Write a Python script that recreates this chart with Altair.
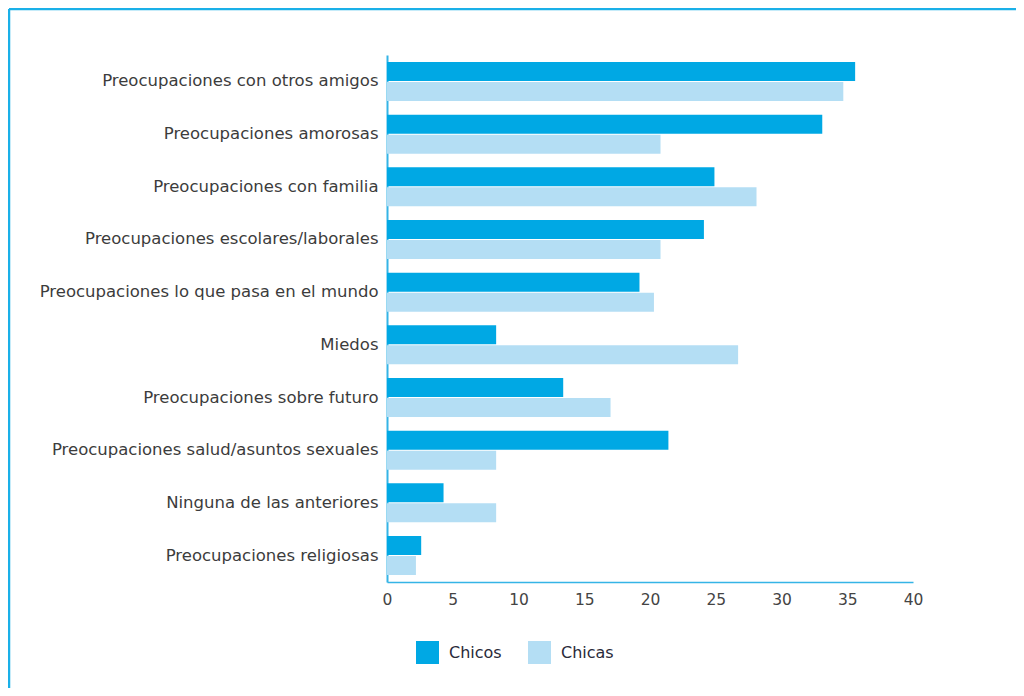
import altair as alt
import pandas as pd

categories = [
    "Preocupaciones con otros amigos",
    "Preocupaciones amorosas",
    "Preocupaciones con familia",
    "Preocupaciones escolares/laborales",
    "Preocupaciones lo que pasa en el mundo",
    "Miedos",
    "Preocupaciones sobre futuro",
    "Preocupaciones salud/asuntos sexuales",
    "Ninguna de las anteriores",
    "Preocupaciones religiosas",
]
chicos = [35.6, 33.1, 24.9, 24.1, 19.2, 8.3, 13.4, 21.4, 4.3, 2.6]
chicas = [34.7, 20.8, 28.1, 20.8, 20.3, 26.7, 17.0, 8.3, 8.3, 2.2]
series = ["Chicos", "Chicas"]
colors = ["#00A8E4", "#B4DEF4"]
x_ticks = [0, 5, 10, 15, 20, 25, 30, 35, 40]

rows = []
for c, a, b in zip(categories, chicos, chicas):
    rows.append({"cat": c, "serie": "Chicos", "val": a})
    rows.append({"cat": c, "serie": "Chicas", "val": b})
df = pd.DataFrame(rows)

FONT = "DejaVu Sans"
W, H = 526, 527
PL, PT = 379, 47
PR = 1008 - PL - W
PB = 680 - PT - H

bars = alt.Chart(df).mark_bar().encode(
    y=alt.Y("cat:N", sort=categories, title=None,
            scale=alt.Scale(paddingInner=0.26, paddingOuter=0.133),
            axis=alt.Axis(labelFontSize=16.5, labelColor="#3c3c3c", labelFont=FONT,
                          labelPadding=9, ticks=False, domainColor="#35B4E6",
                          domainWidth=2, labelLimit=400)),
    yOffset=alt.YOffset("serie:N", sort=series, scale=alt.Scale(paddingInner=0.05)),
    x=alt.X("val:Q", title=None,
            scale=alt.Scale(domain=[0, 40], nice=False),
            axis=alt.Axis(values=x_ticks, grid=False, ticks=False, labelFontSize=15.5,
                          labelColor="#444444", labelFont=FONT, labelPadding=10,
                          labelFlush=False,
                          domainColor="#35B4E6", domainWidth=1.5)),
    color=alt.Color("serie:N", sort=series,
                    scale=alt.Scale(domain=series, range=colors),
                    legend=alt.Legend(title=None, orient="none", direction="horizontal",
                                      legendX=29, legendY=586, symbolType="square",
                                      symbolSize=529, symbolStrokeWidth=0,
                                      labelFontSize=16, labelFont=FONT,
                                      labelColor="#2a2a3a", labelOffset=10,
                                      columnPadding=26, symbolOffset=0)),
)

frame_top = alt.Chart(pd.DataFrame({"k": [0]})).mark_rule(
    color="#1AB0E8", strokeWidth=2.5
).encode(x=alt.value(-PL + 1), x2=alt.value(W + PR), y=alt.value(-PT + 1))

frame_left = alt.Chart(pd.DataFrame({"k": [0]})).mark_rule(
    color="#1AB0E8", strokeWidth=2.5
).encode(x=alt.value(-PL + 1), y=alt.value(-PT + 1), y2=alt.value(H + PB))

chart = alt.layer(frame_top, frame_left, bars).properties(
    width=W, height=H,
    background="white",
    autosize=alt.AutoSizeParams(type="none"),
    padding={"left": PL, "top": PT, "right": PR, "bottom": PB},
).configure_view(stroke="transparent", strokeWidth=0)

chart.save("out.html", embed_options={"renderer": "svg", "actions": False})
